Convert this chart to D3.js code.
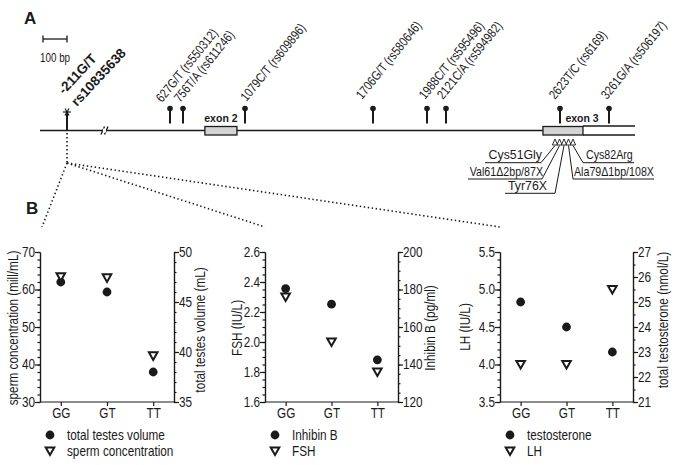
<!DOCTYPE html>
<html><head><meta charset="utf-8">
<script src="https://cdn.jsdelivr.net/npm/d3@7"></script>
<style>
html,body{margin:0;padding:0;background:#fff;}
svg{display:block;}
</style></head>
<body>
<script>
// ---------- DATA ----------
const categories = ["GG", "GT", "TT"];
const spermConcentration = [63.4, 63.1, 42.3];   // mill/mL (left, panel 1)
const totalTestesVolume = [47.0, 46.0, 38.0];    // mL (right, panel 1)
const fshValues = [2.30, 2.00, 1.80];            // IU/L (left, panel 2)
const inhibinB = [180.5, 172.2, 142.5];          // pg/ml (right, panel 2)
const lhValues = [4.0, 4.0, 5.0];                // IU/L (left, panel 3)
const testosterone = [25.0, 24.0, 23.0];         // nmol/L (right, panel 3)

const snpPositions = [627, 756, 1079, 1706, 1988, 2121, 2623, 3261];
const snpLabels = ["627G/T (rs550312)", "756T/A (rs611246)", "1079C/T (rs609896)",
  "1706G/T (rs580646)", "1988C/T (rs595496)", "2121C/A (rs594982)",
  "2623T/C (rs6169)", "3261G/A (rs506197)"];
const mainSnpLabels = ["-211G/T", "rs10835638"];
const mutations = ["Cys51Gly", "Val61\u03942bp/87X", "Tyr76X", "Ala79\u03941bp/108X", "Cys82Arg"];

// ---------- LAYOUT ----------
const W = 683, H = 465;
const SANS = "'Liberation Sans',Arial,Helvetica,sans-serif";
const INK = "#1a1a1a";
const COND = 0.84; // horizontal condensing factor (reference uses a narrow face)

const svg = d3.select("body").append("svg").attr("width", W).attr("height", H)
  .style("background", "#fff");

function ctext(parent, str, x, y, size, opts = {}) {
  const rot = opts.rotate ? ` rotate(${opts.rotate})` : "";
  const s = opts.cond === undefined ? COND : opts.cond;
  return parent.append("text").text(str)
    .attr("transform", `translate(${x},${y})${rot} scale(${s},1)`)
    .attr("text-anchor", opts.anchor || "start")
    .attr("dominant-baseline", opts.baseline || "auto")
    .attr("font-family", SANS).attr("font-size", size)
    .attr("font-weight", opts.bold ? "bold" : "normal")
    .attr("fill", INK);
}

// ================= PANEL A =================
const geneY = 130.5;
// schematic (non-proportional) genomic coordinate -> x scale
const geneX = d3.scaleLinear()
  .domain([-211, 627, 756, 1079, 1706, 1988, 2121, 2623, 3261])
  .range([67, 170, 183, 245, 373, 427, 446, 560, 609]);
const geneStart = 40, exon2 = [870, 1037], exon3 = [2548, 2922], geneEnd = 3600;
const breakX = 105;
// label anchor offsets relative to each lollipop [dx, y]
const snpLabelOffset = [[-8, 103], [-3, 103], [1.5, 102], [-11, 100], [-2, 100], [-3, 100], [-5, 100], [-2, 100]];

ctext(svg, "A", 24, 24, 17, { bold: true, cond: 1 });
ctext(svg, "B", 26, 214, 17, { bold: true, cond: 1 });

// scale bar (100 bp)
const sb = svg.append("g").attr("stroke", INK).attr("stroke-width", 1.3);
sb.append("line").attr("x1", 43).attr("x2", 67).attr("y1", 39).attr("y2", 39);
sb.append("line").attr("x1", 43).attr("x2", 43).attr("y1", 35.5).attr("y2", 42.5);
sb.append("line").attr("x1", 67).attr("x2", 67).attr("y1", 35.5).attr("y2", 42.5);
ctext(svg, "100 bp", 40, 62, 12, { cond: 0.82 });

// gene line
const g = svg.append("g").attr("stroke", INK).attr("stroke-width", 1.3).attr("fill", "none");
g.append("line").attr("x1", geneStart).attr("x2", geneX(exon3[0])).attr("y1", geneY).attr("y2", geneY);
g.append("line").attr("x1", geneX(exon3[1])).attr("x2", geneX(geneEnd)).attr("y1", 126).attr("y2", 126);
g.append("line").attr("x1", geneX(exon3[1])).attr("x2", geneX(geneEnd)).attr("y1", 135).attr("y2", 135);
// break mark
svg.append("rect").attr("x", breakX - 2).attr("y", geneY - 2).attr("width", 3).attr("height", 4).attr("fill", "#fff");
g.append("line").attr("x1", breakX - 4).attr("y1", 134.5).attr("x2", breakX - 0.5).attr("y2", 126.5);
g.append("line").attr("x1", breakX - 0.5).attr("y1", 134.5).attr("x2", breakX + 3).attr("y2", 126.5);
// exons
[exon2, exon3].forEach(e => {
  svg.append("rect").attr("x", geneX(e[0])).attr("y", 126.5).attr("width", geneX(e[1]) - geneX(e[0]))
    .attr("height", 8.5).attr("fill", "#d4d4d4").attr("stroke", INK).attr("stroke-width", 1.3);
});
ctext(svg, "exon 2", (geneX(exon2[0]) + geneX(exon2[1])) / 2, 122, 10.5, { bold: true, anchor: "middle", cond: 1 });
ctext(svg, "exon 3", 582, 122, 10.5, { bold: true, anchor: "middle", cond: 1 });

// lollipop SNPs
const lp = svg.append("g").selectAll("g").data(snpPositions).join("g")
  .attr("transform", d => `translate(${geneX(d)},0)`);
lp.append("line").attr("y1", 108).attr("y2", 123.5).attr("stroke", INK).attr("stroke-width", 2);
lp.append("circle").attr("cy", 108.5).attr("r", 2.8).attr("fill", INK);
snpPositions.forEach((d, i) => {
  const o = snpLabelOffset[i];
  ctext(svg, snpLabels[i], geneX(d) + o[0], o[1], 13, { rotate: -51, cond: 0.82 });
});

// main SNP -211G/T (asterisk)
const mx = geneX(-211);
svg.append("line").attr("x1", mx).attr("x2", mx).attr("y1", 112).attr("y2", geneY)
  .attr("stroke", INK).attr("stroke-width", 2);
const ast = svg.append("g").attr("transform", `translate(${mx},112)`).attr("stroke", INK).attr("stroke-width", 1.2);
[0, 60, 120].forEach(a => {
  const r = 4, rad = a * Math.PI / 180;
  ast.append("line").attr("x1", -r * Math.cos(rad)).attr("y1", -r * Math.sin(rad))
    .attr("x2", r * Math.cos(rad)).attr("y2", r * Math.sin(rad));
});
ctext(svg, mainSnpLabels[0], mx - 3, 95, 13.5, { rotate: -47, bold: true, cond: 1 });
ctext(svg, mainSnpLabels[1], mx + 10, 107, 13.5, { rotate: -47, bold: true, cond: 1 });

// mutations in exon 3
const mutX = d3.scalePoint().domain(mutations).range([555, 573]);
const mutLayout = [
  { side: "L", y: 162.7, x0: 485, x1: 541, tx: 542, c: 0.95 },
  { side: "L", y: 179, x0: 468, x1: 542, tx: 543, c: 0.82 },
  { side: "L", y: 193.3, x0: 505, x1: 555, tx: 547, c: 0.95 },
  { side: "R", y: 179, x0: 573, x1: 654, tx: 574, c: 0.82 },
  { side: "R", y: 162.7, x0: 583, x1: 634, tx: 586, c: 0.82 }
];
const mg = svg.append("g");
mutations.forEach((m, i) => {
  const L = mutLayout[i];
  const tx = mutX(m);
  mg.append("path").attr("d", `M${tx - 2.6},145 L${tx + 2.6},145 L${tx},139 Z`)
    .attr("fill", "#fff").attr("stroke", INK).attr("stroke-width", 0.9);
  const attach = L.side === "L" ? L.x1 : L.x0;
  mg.append("line").attr("x1", L.x0).attr("x2", L.x1).attr("y1", L.y).attr("y2", L.y)
    .attr("stroke", INK).attr("stroke-width", 1);
  mg.append("line").attr("x1", attach).attr("y1", L.y).attr("x2", tx).attr("y2", 145.5)
    .attr("stroke", INK).attr("stroke-width", 1);
  ctext(mg, m, L.tx, L.y - 3.5, 13, { anchor: L.side === "L" ? "end" : "start", cond: L.c });
});

// dotted connector lines
const dots = svg.append("g").attr("stroke", INK).attr("stroke-width", 1.6)
  .attr("stroke-dasharray", "1.4,2.6").attr("fill", "none");
dots.append("line").attr("x1", mx).attr("y1", 133).attr("x2", mx).attr("y2", 163);
[[42, 227], [265, 227], [500, 227]].forEach(p => {
  dots.append("line").attr("x1", mx).attr("y1", 163).attr("x2", p[0]).attr("y2", p[1]);
});

// ================= PANEL B =================
const yTop = 252, yBot = 402;
const panels = [
  { x0: 40, x1: 174, left: [30, 70], lStep: 10, lMinor: 2, lFmt: "d",
    right: [35, 50], rStep: 5, rMinor: 1, rFmt: "d",
    triData: spermConcentration, circData: totalTestesVolume,
    lTitle: "sperm concentration (mill/mL)", rTitle: "total testes volume (mL)",
    lTitleX: 13, lTitleY: 328, rTitleX: 200, rTitleY: 330,
    legCirc: "total testes volume", legTri: "sperm concentration", legX: 50 },
  { x0: 265, x1: 398, left: [1.6, 2.6], lStep: 0.2, lMinor: 0.05, lFmt: ".1f",
    right: [120, 200], rStep: 20, rMinor: 5, rFmt: "d",
    triData: fshValues, circData: inhibinB,
    lTitle: "FSH (IU/L)", rTitle: "Inhibin B (pg/ml)",
    lTitleX: 237, lTitleY: 328, rTitleX: 430, rTitleY: 328,
    legCirc: "Inhibin B", legTri: "FSH", legX: 275 },
  { x0: 500, x1: 633, left: [3.5, 5.5], lStep: 0.5, lMinor: 0.1, lFmt: ".1f",
    right: [21, 27], rStep: 1, rMinor: 0.5, rFmt: "d",
    triData: lhValues, circData: testosterone,
    lTitle: "LH (IU/L)", rTitle: "total testosterone (nmol/L)",
    lTitleX: 465, lTitleY: 327, rTitleX: 663, rTitleY: 320,
    legCirc: "testosterone", legTri: "LH", legX: 510 }
];

function rangeTicks(dom, step) {
  const n = Math.round((dom[1] - dom[0]) / step);
  return d3.range(n + 1).map(i => +(dom[0] + i * step).toFixed(4));
}
const triPath = "M-4.3,-3.6 L4.3,-3.6 L0,4 Z";

panels.forEach(p => {
  const pg = svg.append("g");
  const x = d3.scalePoint().domain(categories).range([p.x0, p.x1]).padding(0.45);
  const yL = d3.scaleLinear().domain(p.left).range([yBot, yTop]);
  const yR = d3.scaleLinear().domain(p.right).range([yBot, yTop]);

  // minor ticks
  pg.append("g").attr("transform", `translate(${p.x0},0)`)
    .call(d3.axisLeft(yL).tickValues(rangeTicks(p.left, p.lMinor)).tickSize(2.5).tickFormat("").tickSizeOuter(0));
  pg.append("g").attr("transform", `translate(${p.x1},0)`)
    .call(d3.axisRight(yR).tickValues(rangeTicks(p.right, p.rMinor)).tickSize(2.5).tickFormat("").tickSizeOuter(0));
  // major ticks
  pg.append("g").attr("transform", `translate(${p.x0},0)`)
    .call(d3.axisLeft(yL).tickValues(rangeTicks(p.left, p.lStep)).tickSize(5).tickPadding(1)
      .tickFormat(d3.format(p.lFmt)).tickSizeOuter(0));
  pg.append("g").attr("transform", `translate(${p.x1},0)`)
    .call(d3.axisRight(yR).tickValues(rangeTicks(p.right, p.rStep)).tickSize(5).tickPadding(1)
      .tickFormat(d3.format(p.rFmt)).tickSizeOuter(0));
  const gx = pg.append("g").attr("transform", `translate(0,${yBot})`)
    .call(d3.axisBottom(x).tickSize(4).tickPadding(2).tickSizeOuter(0));
  gx.select(".domain").attr("d", `M${p.x0},0H${p.x1}`);

  pg.selectAll(".domain, .tick line").attr("stroke", INK).attr("stroke-width", 1.2);
  pg.selectAll(".tick text").attr("font-family", SANS).attr("font-size", 14).attr("fill", INK)
    .attr("transform", `scale(${COND},1)`);

  // axis titles
  ctext(pg, p.lTitle, p.lTitleX, p.lTitleY, 14, { rotate: -90, anchor: "middle", baseline: "central" });
  ctext(pg, p.rTitle, p.rTitleX, p.rTitleY, 14, { rotate: -90, anchor: "middle", baseline: "central" });

  // data marks
  pg.append("g").selectAll("circle").data(p.circData).join("circle")
    .attr("cx", (d, i) => x(categories[i])).attr("cy", d => yR(d)).attr("r", 4.4).attr("fill", INK);
  pg.append("g").selectAll("path").data(p.triData).join("path")
    .attr("transform", (d, i) => `translate(${x(categories[i])},${yL(d)})`)
    .attr("d", triPath).attr("fill", "#fff").attr("stroke", INK).attr("stroke-width", 2);

  // legend
  pg.append("circle").attr("cx", p.legX).attr("cy", 435).attr("r", 4.4).attr("fill", INK);
  pg.append("path").attr("transform", `translate(${p.legX},451)`).attr("d", triPath)
    .attr("fill", "#fff").attr("stroke", INK).attr("stroke-width", 2);
  ctext(pg, p.legCirc, p.legX + 17, 435, 14, { baseline: "central" });
  ctext(pg, p.legTri, p.legX + 17, 451, 14, { baseline: "central" });
});
</script>
</body></html>
